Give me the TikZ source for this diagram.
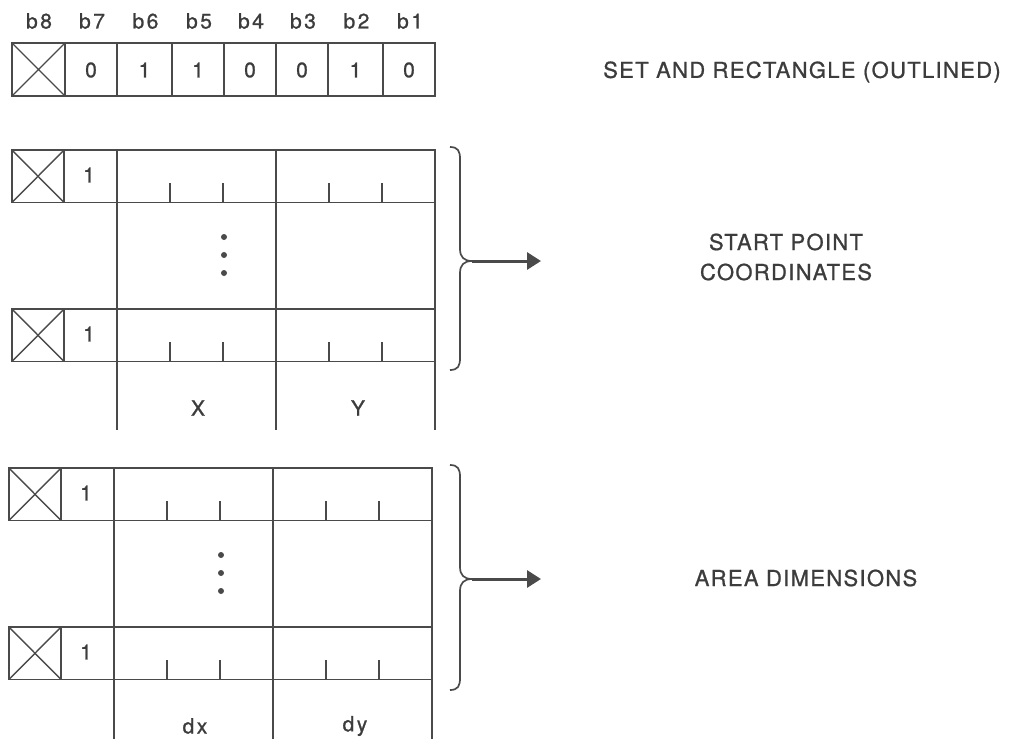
\documentclass[tikz,border=0pt]{standalone}
\usepackage{fontspec}
\setmainfont{TeX Gyre Heros}[LetterSpace=6,FakeBold=0.9]
\newfontfamily\cellfont{TeX Gyre Heros}[LetterSpace=12,FakeBold=1.0]
\usetikzlibrary{arrows.meta}
\definecolor{ink}{HTML}{4A4A4A}
\definecolor{txt}{HTML}{3C3C3C}
\newcommand{\datarow}[2]{%
  \draw (12,#1) rectangle (435,#1+52.5);
  \draw (64,#1)--(64,#1+52.5) (117,#1)--(117,#1+52.5) (276,#1)--(276,#1+52.5);
  \draw[thin line] (12,#1)--(64,#1+52.5) (12,#1+52.5)--(64,#1);
  \foreach \xx in {170,223,329,382} {\draw[tick] (\xx,#1+33)--(\xx,#1+52.5);}
  \node[cell] (#2) at (89,#1+25) {1};
}
\newcommand{\bitblock}[6]{%
  \begin{scope}[xshift=#2pt]
  \datarow{#1}{#3top}
  \draw (117,#1+52.5)--(117,#1+159) (276,#1+52.5)--(276,#1+159) (435,#1+52.5)--(435,#1+159);
  \foreach \dd in {87,105,123} {\fill[ink] (224,#1+\dd) circle (3);}
  \datarow{#1+159}{#3bot}
  \draw (117,#1+212)--(117,#6) (276,#1+212)--(276,#6) (435,#1+212)--(435,#6);
  \node[cell] (#3l) at (198,#1+258) {#4};
  \node[cell] (#3r) at (358,#1+258) {#5};
  \end{scope}
}
\newcommand{\bracearrow}[6]{% x top mid bottom tip name
  \draw[brace] (#1-10,#2) .. controls (#1-2,#2) and (#1,#2+4) .. (#1,#2+12)
     -- (#1,#3-12) .. controls (#1,#3-4) and (#1+4,#3) .. (#1+12,#3)
     .. controls (#1+4,#3) and (#1,#3+4) .. (#1,#3+12)
     -- (#1,#4-12) .. controls (#1,#4-4) and (#1-2,#4) .. (#1-10,#4);
  \coordinate (#6s) at (#1+12,#3);
  \coordinate (#6e) at (#5,#3);
  \draw[arr] (#6s) -- (#6e);
}
\begin{document}
\begin{tikzpicture}[x=1pt,y=-1pt,line width=1.8pt,draw=ink,
  thin line/.style={line width=1.4pt},
  tick/.style={line width=1.6pt},
  brace/.style={line width=1.7pt},
  arr/.style={line width=3pt,-{Triangle[length=14pt,width=17pt]}},
  cell/.style={text=txt,inner sep=0pt,font=\cellfont\fontsize{21}{23}\selectfont},
  side/.style={text=txt,inner sep=0pt,align=center,font=\fontsize{22}{30}\selectfont}]
\useasboundingbox (0,0) rectangle (1013,739);
% header labels
\foreach \lab/\xc in {b8/39,b7/92,b6/145.5,b5/199,b4/251,b3/303,b2/356.5,b1/410}
  {\node[cell] (h\lab) at (\xc,21) {\lab};}
% top row
\draw (12,43) rectangle (435,96);
\foreach \xx in {65,117,172,224,276,328,383} {\draw (\xx,43)--(\xx,96);}
\draw[thin line] (12,43)--(65,96) (12,96)--(65,43);
\foreach \v/\xc/\k in {0/91/7,1/144.5/6,1/198/5,0/250/4,0/302/3,1/355.5/2,0/409/1}
  {\node[cell] (c\k) at (\xc,70) {\v};}
% blocks
\bitblock{150}{0}{A}{X}{Y}{430}
\bitblock{468}{-3}{B}{dx}{dy}{739}
% braces
\bracearrow{460}{147}{261}{370}{541}{ba}
\bracearrow{460}{465}{579}{690}{541}{bb}
% side texts
\node[side] (t1) at (802,72) {SET AND RECTANGLE (OUTLINED)};
\node[side] (t2) at (786,257) {START POINT\\COORDINATES};
\node[side] (t3) at (806,578) {AREA DIMENSIONS};
\end{tikzpicture}
\end{document}
